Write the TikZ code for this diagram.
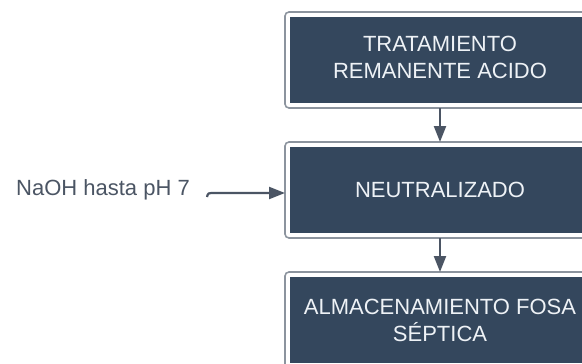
\documentclass[tikz,border=0pt]{standalone}
\usepackage{fontspec}
\setmainfont{Liberation Sans}
\usetikzlibrary{arrows.meta}
\definecolor{boxfill}{HTML}{34475D}
\definecolor{boxframe}{HTML}{8C949E}
\definecolor{boxtext}{HTML}{EEF2F6}
\definecolor{linkcol}{HTML}{4B5564}
\tikzset{
  stage/.style={fill=boxfill, text=boxtext, minimum width=300pt, minimum height=86pt,
    align=center, inner sep=0pt, outer sep=5pt,
    font=\fontsize{22}{27}\selectfont},
  frame/.style={draw=boxframe, line width=1.6pt, rounded corners=4pt},
  link/.style={draw=linkcol, line width=2.2pt, -{Triangle[length=16pt,width=12pt]}},
  feed/.style={text=linkcol, font=\fontsize{22}{27}\selectfont, inner sep=0pt}
}
\begin{document}
\begin{tikzpicture}[x=1pt, y=-1pt]
  \clip (0,0) rectangle (582,364);
  \fill[white] (0,0) rectangle (582,364);
  % process stages
  \node[stage] (s1) at (440,60)
    {\raisebox{4pt}{\begin{tabular}{@{}c@{}}TRATAMIENTO\\REMANENTE ACIDO\end{tabular}}};
  \node[stage] (s2) at (440,190) {NEUTRALIZADO};
  \node[stage] (s3) at (440,320) {ALMACENAMIENTO FOSA\\SÉPTICA};
  % outer frames around each stage
  \foreach \s in {s1,s2,s3}
    \draw[frame] (\s.north west) rectangle (\s.south east);
  % flow between stages
  \draw[link] (s1.south) -- (s2.north);
  \draw[link] (s2.south) -- (s3.north);
  % reagent input
  \node[feed, anchor=east] (naoh) at (190,190) {NaOH hasta pH 7};
  \coordinate (feedstart) at (207,197);
  \draw[link] (feedstart) .. controls (208,193) .. (215,193) -- (s2.west |- 0,193);
\end{tikzpicture}
\end{document}
